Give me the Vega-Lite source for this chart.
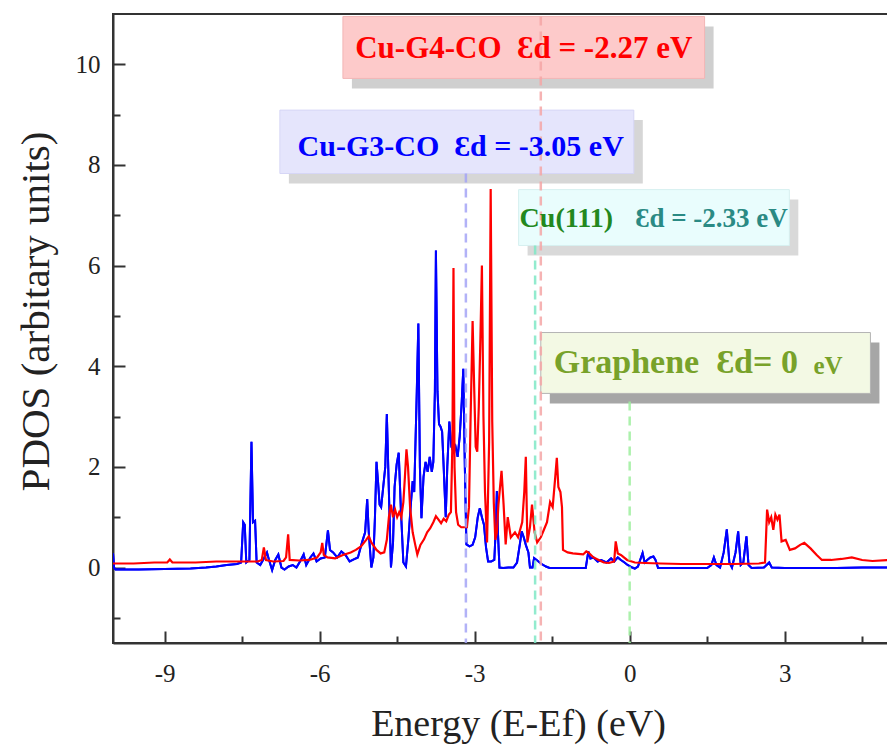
{
  "$schema": "https://vega.github.io/schema/vega-lite/v6.json",
  "width": 775,
  "height": 629,
  "autosize": "none",
  "padding": {"left": 113, "top": 14, "right": 0, "bottom": 102},
  "background": "white",
  "config": {
    "view": {"stroke": "#333333", "strokeWidth": 2},
    "axis": {
      "domainColor": "#333333", "domainWidth": 2, "tickColor": "#333333", "tickWidth": 2,
      "grid": false, "labelFont": "Liberation Serif", "labelFontSize": 25, "labelColor": "#222222",
      "titleFont": "Liberation Serif", "titleFontSize": 40, "titleFontWeight": "normal", "titleColor": "#222222"
    }
  },
  "resolve": {"scale": {"fill": "independent", "stroke": "independent", "color": "independent"}},
  "datasets": {
    "g3": [
      {"E": -10.0, "v": 0.28}, {"E": -9.98, "v": 0.0}, {"E": -9.95, "v": -0.04}, {"E": -9.5, "v": -0.04}, {"E": -9.0, "v": -0.03},
      {"E": -8.5, "v": -0.02}, {"E": -8.2, "v": 0.0}, {"E": -8.0, "v": 0.02}, {"E": -7.8, "v": 0.05}, {"E": -7.6, "v": 0.07},
      {"E": -7.52, "v": 0.1}, {"E": -7.48, "v": 0.9}, {"E": -7.45, "v": 0.85}, {"E": -7.42, "v": 0.1}, {"E": -7.36, "v": 0.15},
      {"E": -7.32, "v": 2.5}, {"E": -7.29, "v": 0.9}, {"E": -7.25, "v": 0.93}, {"E": -7.22, "v": 0.1}, {"E": -7.15, "v": 0.05},
      {"E": -7.08, "v": 0.18}, {"E": -7.02, "v": 0.3}, {"E": -6.98, "v": 0.15}, {"E": -6.92, "v": -0.05}, {"E": -6.86, "v": 0.15},
      {"E": -6.8, "v": 0.26}, {"E": -6.74, "v": 0.0}, {"E": -6.68, "v": -0.04}, {"E": -6.6, "v": 0.02}, {"E": -6.52, "v": 0.05},
      {"E": -6.45, "v": 0.0}, {"E": -6.38, "v": 0.12}, {"E": -6.31, "v": 0.26}, {"E": -6.26, "v": 0.05}, {"E": -6.18, "v": 0.2},
      {"E": -6.12, "v": 0.28}, {"E": -6.06, "v": 0.12}, {"E": -5.98, "v": 0.18}, {"E": -5.9, "v": 0.2}, {"E": -5.84, "v": 0.74},
      {"E": -5.8, "v": 0.35}, {"E": -5.74, "v": 0.3}, {"E": -5.66, "v": 0.2}, {"E": -5.58, "v": 0.32}, {"E": -5.5, "v": 0.25},
      {"E": -5.42, "v": 0.12}, {"E": -5.34, "v": 0.16}, {"E": -5.26, "v": 0.2}, {"E": -5.18, "v": 0.5}, {"E": -5.12, "v": 0.7},
      {"E": -5.08, "v": 1.36}, {"E": -5.05, "v": 0.7}, {"E": -5.0, "v": 0.0}, {"E": -4.96, "v": 0.2}, {"E": -4.93, "v": 1.0},
      {"E": -4.9, "v": 2.1}, {"E": -4.87, "v": 1.7}, {"E": -4.84, "v": 1.25}, {"E": -4.81, "v": 1.2}, {"E": -4.77, "v": 1.6},
      {"E": -4.73, "v": 2.0}, {"E": -4.7, "v": 3.05}, {"E": -4.66, "v": 1.5}, {"E": -4.62, "v": 0.0}, {"E": -4.58, "v": 0.5},
      {"E": -4.55, "v": 1.6}, {"E": -4.51, "v": 2.05}, {"E": -4.47, "v": 2.28}, {"E": -4.43, "v": 1.2}, {"E": -4.38, "v": 0.1},
      {"E": -4.33, "v": 0.02}, {"E": -4.28, "v": 0.6}, {"E": -4.24, "v": 1.2}, {"E": -4.2, "v": 1.72}, {"E": -4.17, "v": 1.5},
      {"E": -4.12, "v": 3.5}, {"E": -4.09, "v": 4.85}, {"E": -4.06, "v": 2.0}, {"E": -4.03, "v": 0.98}, {"E": -3.99, "v": 1.8},
      {"E": -3.95, "v": 2.1}, {"E": -3.91, "v": 1.9}, {"E": -3.87, "v": 2.2}, {"E": -3.83, "v": 1.9}, {"E": -3.8, "v": 2.1},
      {"E": -3.77, "v": 3.5}, {"E": -3.75, "v": 6.3}, {"E": -3.72, "v": 3.5}, {"E": -3.69, "v": 2.85}, {"E": -3.66, "v": 2.8},
      {"E": -3.63, "v": 2.7}, {"E": -3.6, "v": 2.0}, {"E": -3.56, "v": 1.0}, {"E": -3.53, "v": 2.0}, {"E": -3.49, "v": 2.9},
      {"E": -3.45, "v": 2.4}, {"E": -3.41, "v": 2.3}, {"E": -3.37, "v": 2.4}, {"E": -3.33, "v": 2.2}, {"E": -3.29, "v": 2.6},
      {"E": -3.25, "v": 3.3}, {"E": -3.22, "v": 3.95}, {"E": -3.19, "v": 2.0}, {"E": -3.16, "v": 0.46}, {"E": -3.1, "v": 0.42},
      {"E": -3.04, "v": 0.45}, {"E": -2.99, "v": 0.6}, {"E": -2.94, "v": 1.0}, {"E": -2.9, "v": 1.18}, {"E": -2.86, "v": 1.0},
      {"E": -2.82, "v": 0.85}, {"E": -2.78, "v": 0.4}, {"E": -2.74, "v": 0.12}, {"E": -2.68, "v": 0.12}, {"E": -2.62, "v": 0.15},
      {"E": -2.59, "v": 0.8}, {"E": -2.57, "v": 1.52}, {"E": -2.55, "v": 0.7}, {"E": -2.52, "v": 0.0}, {"E": -2.45, "v": -0.01},
      {"E": -2.35, "v": 0.0}, {"E": -2.25, "v": 0.0}, {"E": -2.18, "v": 0.1}, {"E": -2.12, "v": 0.5}, {"E": -2.09, "v": 0.72},
      {"E": -2.05, "v": 0.6}, {"E": -2.01, "v": 0.45}, {"E": -1.96, "v": 0.3}, {"E": -1.93, "v": 0.0}, {"E": -1.88, "v": 0.0},
      {"E": -1.85, "v": 0.19}, {"E": -1.8, "v": 0.15}, {"E": -1.72, "v": 0.08}, {"E": -1.62, "v": 0.02}, {"E": -1.55, "v": -0.01},
      {"E": -1.3, "v": -0.01}, {"E": -1.0, "v": -0.01}, {"E": -0.85, "v": -0.01}, {"E": -0.8, "v": 0.32}, {"E": -0.76, "v": 0.18},
      {"E": -0.7, "v": 0.2}, {"E": -0.62, "v": 0.12}, {"E": -0.55, "v": 0.15}, {"E": -0.45, "v": 0.1}, {"E": -0.36, "v": 0.18},
      {"E": -0.3, "v": 0.12}, {"E": -0.23, "v": 0.2}, {"E": -0.17, "v": 0.15}, {"E": -0.1, "v": 0.1}, {"E": -0.04, "v": 0.05},
      {"E": 0.05, "v": 0.0}, {"E": 0.1, "v": -0.02}, {"E": 0.16, "v": 0.02}, {"E": 0.25, "v": 0.29}, {"E": 0.29, "v": 0.1},
      {"E": 0.34, "v": 0.15}, {"E": 0.4, "v": 0.2}, {"E": 0.46, "v": 0.22}, {"E": 0.5, "v": 0.15}, {"E": 0.55, "v": -0.01},
      {"E": 0.8, "v": -0.01}, {"E": 1.2, "v": -0.01}, {"E": 1.5, "v": -0.01}, {"E": 1.58, "v": 0.05}, {"E": 1.63, "v": 0.2},
      {"E": 1.68, "v": 0.05}, {"E": 1.75, "v": 0.0}, {"E": 1.82, "v": 0.3}, {"E": 1.88, "v": 0.76}, {"E": 1.93, "v": 0.1},
      {"E": 1.98, "v": 0.0}, {"E": 2.05, "v": 0.3}, {"E": 2.1, "v": 0.72}, {"E": 2.15, "v": 0.05}, {"E": 2.2, "v": 0.1},
      {"E": 2.26, "v": 0.62}, {"E": 2.3, "v": 0.05}, {"E": 2.36, "v": -0.01}, {"E": 2.6, "v": 0.0}, {"E": 2.7, "v": 0.1},
      {"E": 2.75, "v": 0.0}, {"E": 3.0, "v": -0.01}, {"E": 3.5, "v": -0.01}, {"E": 4.0, "v": -0.01}, {"E": 4.5, "v": 0.0}, {"E": 5.0, "v": 0.0}
    ],
    "g4": [
      {"E": -10.0, "v": 0.08}, {"E": -9.6, "v": 0.08}, {"E": -9.2, "v": 0.1}, {"E": -8.95, "v": 0.1}, {"E": -8.9, "v": 0.16},
      {"E": -8.85, "v": 0.1}, {"E": -8.4, "v": 0.1}, {"E": -8.0, "v": 0.12}, {"E": -7.6, "v": 0.12}, {"E": -7.2, "v": 0.12},
      {"E": -7.12, "v": 0.15}, {"E": -7.08, "v": 0.4}, {"E": -7.04, "v": 0.15}, {"E": -6.9, "v": 0.12}, {"E": -6.7, "v": 0.13},
      {"E": -6.65, "v": 0.2}, {"E": -6.61, "v": 0.66}, {"E": -6.58, "v": 0.15}, {"E": -6.4, "v": 0.14}, {"E": -6.2, "v": 0.15},
      {"E": -6.05, "v": 0.2}, {"E": -5.98, "v": 0.3}, {"E": -5.95, "v": 0.49}, {"E": -5.92, "v": 0.25}, {"E": -5.85, "v": 0.2},
      {"E": -5.7, "v": 0.18}, {"E": -5.55, "v": 0.25}, {"E": -5.4, "v": 0.3}, {"E": -5.3, "v": 0.35}, {"E": -5.2, "v": 0.42},
      {"E": -5.1, "v": 0.55}, {"E": -5.05, "v": 0.62}, {"E": -5.0, "v": 0.5}, {"E": -4.9, "v": 0.35}, {"E": -4.82, "v": 0.28},
      {"E": -4.75, "v": 0.3}, {"E": -4.7, "v": 0.55}, {"E": -4.66, "v": 1.0}, {"E": -4.62, "v": 1.25}, {"E": -4.58, "v": 1.0},
      {"E": -4.54, "v": 1.15}, {"E": -4.5, "v": 1.0}, {"E": -4.46, "v": 1.1}, {"E": -4.42, "v": 1.0}, {"E": -4.38, "v": 1.3},
      {"E": -4.35, "v": 1.8}, {"E": -4.32, "v": 2.35}, {"E": -4.29, "v": 2.0}, {"E": -4.25, "v": 1.2}, {"E": -4.2, "v": 0.7},
      {"E": -4.15, "v": 0.45}, {"E": -4.11, "v": 0.26}, {"E": -4.05, "v": 0.45}, {"E": -3.98, "v": 0.56}, {"E": -3.92, "v": 0.7},
      {"E": -3.86, "v": 0.78}, {"E": -3.8, "v": 0.9}, {"E": -3.75, "v": 1.02}, {"E": -3.7, "v": 0.95}, {"E": -3.65, "v": 0.88},
      {"E": -3.6, "v": 0.97}, {"E": -3.55, "v": 0.92}, {"E": -3.5, "v": 1.05}, {"E": -3.46, "v": 1.1}, {"E": -3.43, "v": 2.5},
      {"E": -3.41, "v": 5.95}, {"E": -3.39, "v": 2.0}, {"E": -3.36, "v": 1.1}, {"E": -3.32, "v": 0.85}, {"E": -3.26, "v": 0.8},
      {"E": -3.2, "v": 0.8}, {"E": -3.15, "v": 0.8}, {"E": -3.11, "v": 1.2}, {"E": -3.08, "v": 2.9}, {"E": -3.04, "v": 4.9},
      {"E": -3.01, "v": 3.6}, {"E": -2.98, "v": 2.4}, {"E": -2.95, "v": 2.3}, {"E": -2.92, "v": 3.2}, {"E": -2.89, "v": 4.5},
      {"E": -2.86, "v": 6.0}, {"E": -2.83, "v": 3.0}, {"E": -2.8, "v": 1.5}, {"E": -2.76, "v": 0.5}, {"E": -2.72, "v": 2.5},
      {"E": -2.69, "v": 7.52}, {"E": -2.66, "v": 2.9}, {"E": -2.63, "v": 1.3}, {"E": -2.6, "v": 0.55}, {"E": -2.57, "v": 0.7},
      {"E": -2.54, "v": 1.25}, {"E": -2.48, "v": 1.92}, {"E": -2.44, "v": 1.25}, {"E": -2.4, "v": 0.46}, {"E": -2.36, "v": 1.0},
      {"E": -2.3, "v": 0.6}, {"E": -2.22, "v": 0.7}, {"E": -2.16, "v": 0.6}, {"E": -2.08, "v": 0.9}, {"E": -2.04, "v": 1.5},
      {"E": -2.01, "v": 2.2}, {"E": -1.98, "v": 0.5}, {"E": -1.93, "v": 0.8}, {"E": -1.89, "v": 1.25}, {"E": -1.84, "v": 0.7},
      {"E": -1.79, "v": 0.5}, {"E": -1.72, "v": 0.6}, {"E": -1.66, "v": 0.75}, {"E": -1.6, "v": 0.9}, {"E": -1.54, "v": 1.3},
      {"E": -1.49, "v": 1.2}, {"E": -1.44, "v": 1.8}, {"E": -1.41, "v": 2.18}, {"E": -1.38, "v": 1.6}, {"E": -1.34, "v": 1.5},
      {"E": -1.31, "v": 1.2}, {"E": -1.29, "v": 0.35}, {"E": -1.2, "v": 0.3}, {"E": -1.1, "v": 0.28}, {"E": -1.0, "v": 0.27},
      {"E": -0.9, "v": 0.26}, {"E": -0.84, "v": 0.32}, {"E": -0.8, "v": 0.3}, {"E": -0.7, "v": 0.2}, {"E": -0.6, "v": 0.15},
      {"E": -0.5, "v": 0.1}, {"E": -0.4, "v": 0.09}, {"E": -0.3, "v": 0.12}, {"E": -0.27, "v": 0.52}, {"E": -0.23, "v": 0.28},
      {"E": -0.17, "v": 0.25}, {"E": -0.05, "v": 0.15}, {"E": 0.1, "v": 0.1}, {"E": 0.3, "v": 0.09}, {"E": 0.6, "v": 0.08},
      {"E": 1.0, "v": 0.07}, {"E": 1.5, "v": 0.07}, {"E": 2.0, "v": 0.07}, {"E": 2.5, "v": 0.08}, {"E": 2.62, "v": 0.1},
      {"E": 2.66, "v": 1.15}, {"E": 2.7, "v": 0.9}, {"E": 2.74, "v": 1.0}, {"E": 2.78, "v": 0.75}, {"E": 2.82, "v": 1.05},
      {"E": 2.86, "v": 0.95}, {"E": 2.9, "v": 1.05}, {"E": 2.94, "v": 0.52}, {"E": 3.02, "v": 0.55}, {"E": 3.1, "v": 0.35},
      {"E": 3.2, "v": 0.38}, {"E": 3.3, "v": 0.45}, {"E": 3.38, "v": 0.49}, {"E": 3.5, "v": 0.38}, {"E": 3.62, "v": 0.25},
      {"E": 3.72, "v": 0.15}, {"E": 3.9, "v": 0.15}, {"E": 4.1, "v": 0.17}, {"E": 4.3, "v": 0.2}, {"E": 4.5, "v": 0.15},
      {"E": 4.7, "v": 0.13}, {"E": 5.0, "v": 0.15}
    ],
    "boxes": [
      {"b": "G4", "x1": -5.55, "x2": 1.45, "y1": 9.72, "y2": 10.95},
      {"b": "G3", "x1": -6.77, "x2": 0.08, "y1": 7.83, "y2": 9.09},
      {"b": "Cu", "x1": -2.15, "x2": 3.09, "y1": 6.4, "y2": 7.51},
      {"b": "Gr", "x1": -1.72, "x2": 4.66, "y1": 3.46, "y2": 4.67}
    ],
    "dashes": [
      {"b": "G3", "E": -3.17, "top": 7.83},
      {"b": "G4", "E": -1.72, "top": 10.95},
      {"b": "Cu", "E": -1.83, "top": 6.4},
      {"b": "Gr", "E": 0.0, "top": 3.3}
    ]
  },
  "layer": [
    {
      "data": {"name": "g3"},
      "mark": {"type": "line", "color": "#0000FF", "strokeWidth": 2, "clip": true},
      "encoding": {
        "x": {"field": "E", "type": "quantitative", "scale": {"domain": [-10, 5], "nice": false, "zero": false},
          "axis": {"title": "Energy (E-Ef) (eV)", "values": [-9, -7.5, -6, -4.5, -3, -1.5, 0, 1.5, 3, 4.5],
            "labelExpr": "datum.value % 3 === 0 ? '' + datum.value : ''",
            "tickSize": {"condition": {"test": "datum.value % 3 === 0", "value": -12}, "value": -7},
            "labelPadding": 30, "titleX": 405, "titleY": 92, "titleBaseline": "alphabetic", "titleAlign": "center", "titleFontSize": 38}},
        "y": {"field": "v", "type": "quantitative", "scale": {"domain": [-1.5, 11], "nice": false, "zero": false},
          "axis": {"title": "PDOS (arbitary units)", "values": [-1, 0, 1, 2, 3, 4, 5, 6, 7, 8, 9, 10],
            "labelExpr": "datum.value % 2 === 0 ? '' + datum.value : ''",
            "tickSize": {"condition": {"test": "datum.value % 2 === 0", "value": -12}, "value": -7},
            "labelPadding": 25, "titleX": -77, "titleY": 297, "titleAngle": 270, "titleAlign": "center", "titleBaseline": "middle", "titleFontSize": 41}}
      }
    },
    {
      "data": {"name": "boxes"},
      "mark": {"type": "rect", "xOffset": 9, "x2Offset": 9, "yOffset": 10, "y2Offset": 10},
      "encoding": {
        "x": {"field": "x1", "type": "quantitative"}, "x2": {"field": "x2"},
        "y": {"field": "y1", "type": "quantitative"}, "y2": {"field": "y2"},
        "fill": {"field": "b", "type": "nominal", "legend": null,
          "scale": {"domain": ["G4", "G3", "Cu", "Gr"], "range": ["#CFCFCF", "#D6D6D6", "#D9D9D9", "#A6A6A6"]}}
      }
    },
    {
      "data": {"name": "boxes"},
      "mark": {"type": "rect", "strokeWidth": 1},
      "encoding": {
        "x": {"field": "x1", "type": "quantitative"}, "x2": {"field": "x2"},
        "y": {"field": "y1", "type": "quantitative"}, "y2": {"field": "y2"},
        "fill": {"field": "b", "type": "nominal", "legend": null,
          "scale": {"domain": ["G4", "G3", "Cu", "Gr"], "range": ["#FDCACA", "#E5E5FC", "#E9FDFD", "#F3F9E4"]}},
        "stroke": {"field": "b", "type": "nominal", "legend": null,
          "scale": {"domain": ["G4", "G3", "Cu", "Gr"], "range": ["#F2B6B6", "#D6D6F6", "#D6F0F0", "#B4B4B4"]}}
      }
    },
    {
      "data": {"name": "g3"},
      "mark": {"type": "line", "color": "#0000FF", "strokeWidth": 2, "clip": true},
      "encoding": {"x": {"field": "E", "type": "quantitative"}, "y": {"field": "v", "type": "quantitative"}}
    },
    {
      "data": {"name": "g4"},
      "mark": {"type": "line", "color": "#FF0000", "strokeWidth": 2.2, "clip": true},
      "encoding": {"x": {"field": "E", "type": "quantitative"}, "y": {"field": "v", "type": "quantitative"}}
    },
    {
      "data": {"name": "dashes"},
      "mark": {"type": "rule", "strokeWidth": 2.5, "strokeDash": [9, 6], "opacity": 0.85},
      "encoding": {
        "x": {"field": "E", "type": "quantitative"},
        "y": {"field": "top", "type": "quantitative"}, "y2": {"datum": -1.5},
        "color": {"field": "b", "type": "nominal", "legend": null,
          "scale": {"domain": ["G4", "G3", "Cu", "Gr"], "range": ["#F4A6A6", "#A4A4F6", "#7FE8C6", "#9EEE9E"]}}
      }
    },
    {
      "data": {"values": [{"t": "Cu-G4-CO\u00a0\u00a0Ɛd = -2.27 eV", "E": -2.05, "v": 10.3}]},
      "mark": {"type": "text", "font": "Liberation Serif", "fontWeight": "bold", "fontSize": 31, "color": "#FF0000", "baseline": "middle"},
      "encoding": {"x": {"field": "E", "type": "quantitative"}, "y": {"field": "v", "type": "quantitative"}, "text": {"field": "t"}}
    },
    {
      "data": {"values": [{"t": "Cu-G3-CO\u00a0\u00a0Ɛd = -3.05 eV", "E": -3.27, "v": 8.36}]},
      "mark": {"type": "text", "font": "Liberation Serif", "fontWeight": "bold", "fontSize": 30, "color": "#0000FF", "baseline": "middle"},
      "encoding": {"x": {"field": "E", "type": "quantitative"}, "y": {"field": "v", "type": "quantitative"}, "text": {"field": "t"}}
    },
    {
      "data": {"values": [{"t": "Cu(111)", "E": -2.13, "v": 6.93}]},
      "mark": {"type": "text", "font": "Liberation Serif", "fontWeight": "bold", "fontSize": 28, "color": "#23881E", "baseline": "middle", "align": "left"},
      "encoding": {"x": {"field": "E", "type": "quantitative"}, "y": {"field": "v", "type": "quantitative"}, "text": {"field": "t"}}
    },
    {
      "data": {"values": [{"t": "Ɛd = -2.33 eV", "E": 3.06, "v": 6.93}]},
      "mark": {"type": "text", "font": "Liberation Serif", "fontWeight": "bold", "fontSize": 27, "color": "#2A8A84", "baseline": "middle", "align": "right"},
      "encoding": {"x": {"field": "E", "type": "quantitative"}, "y": {"field": "v", "type": "quantitative"}, "text": {"field": "t"}}
    },
    {
      "data": {"values": [{"t": "Graphene\u00a0\u00a0Ɛd= 0", "E": -1.47, "v": 4.07}]},
      "mark": {"type": "text", "font": "Liberation Serif", "fontWeight": "bold", "fontSize": 34, "color": "#78A22A", "baseline": "middle", "align": "left"},
      "encoding": {"x": {"field": "E", "type": "quantitative"}, "y": {"field": "v", "type": "quantitative"}, "text": {"field": "t"}}
    },
    {
      "data": {"values": [{"t": "eV", "E": 4.12, "v": 4.0}]},
      "mark": {"type": "text", "font": "Liberation Serif", "fontWeight": "bold", "fontSize": 25, "color": "#78A22A", "baseline": "middle", "align": "right"},
      "encoding": {"x": {"field": "E", "type": "quantitative"}, "y": {"field": "v", "type": "quantitative"}, "text": {"field": "t"}}
    }
  ]
}
